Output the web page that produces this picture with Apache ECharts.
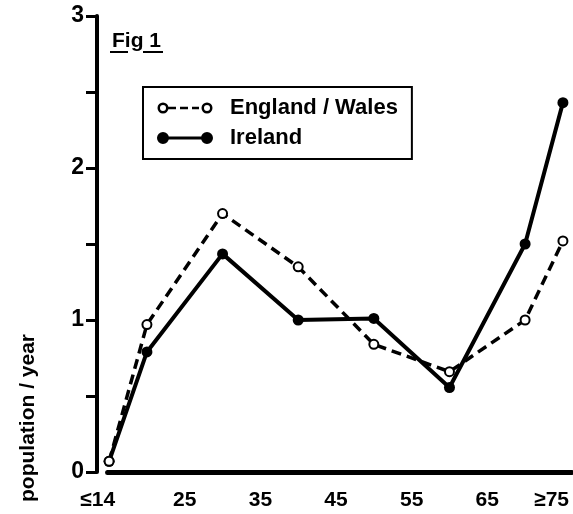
<!DOCTYPE html>
<html>
<head>
<meta charset="utf-8">
<script src="https://cdn.jsdelivr.net/npm/echarts@6/dist/echarts.min.js"></script>
<style>
  html, body { margin: 0; padding: 0; background: #fff; }
  #chart { width: 573px; height: 514px; }
</style>
</head>
<body>
<div id="chart"></div>
<script>
// age group (x) and value per group
const ages = [15, 20, 30, 40, 50, 60, 70, 75]
const englandWales = [0.07, 0.97, 1.70, 1.35, 0.84, 0.66, 1.0, 1.52]
const ireland = [0.07, 0.79, 1.435, 1.0, 1.01, 0.556, 1.5, 2.43]
const xLabels = ['≤14', '25', '35', '45', '55', '65', '≥75']
const xLabelPos = [13.5, 25, 35, 45, 55, 65, 73.5]
const yTicks = [0, 1, 2, 3]

const font = 'Liberation Sans'
const pair = arr => arr.map((v, i) => [ages[i], v])

// legend icons: circle - line - circle
const iconOpen = 'path://M0,0h0.01v0.01h-0.01Z M55.99,11.99h0.01v0.01h-0.01Z ' +
  'M0.5,6A5.5,5.5 0 1,1 11.5,6A5.5,5.5 0 1,1 0.5,6Z M3,6A3,3 0 1,0 9,6A3,3 0 1,0 3,6Z ' +
  'M11,4.7h8v2.6h-8Z M23,4.7h8v2.6h-8Z M35,4.7h7v2.6h-7Z ' +
  'M44.5,6A5.5,5.5 0 1,1 55.5,6A5.5,5.5 0 1,1 44.5,6Z M47,6A3,3 0 1,0 53,6A3,3 0 1,0 47,6Z'
const iconFilled = 'path://M0,6A6,6 0 1,1 12,6A6,6 0 1,1 0,6Z M6,4.4h44v3.2h-44Z M44,6A6,6 0 1,1 56,6A6,6 0 1,1 44,6Z'

const myChart = echarts.init(document.getElementById('chart'))
const option = {
  backgroundColor: '#fff',
  animation: false,
  textStyle: { fontFamily: font },
  grid: { left: 97, right: 1, top: 16, bottom: 42, outerBoundsMode: 'none' },
  legend: {
    left: 143,
    top: 87,
    orient: 'vertical',
    borderColor: '#000',
    borderWidth: 2,
    padding: [10, 14, 10, 14],
    itemGap: 8,
    itemWidth: 56,
    itemHeight: 12,
    selectedMode: false,
    itemStyle: { color: '#000', borderWidth: 0 },
    textStyle: { fontFamily: font, fontSize: 22, fontWeight: 'bold', color: '#000', padding: [0, 0, 0, 12] },
    data: [
      { name: 'England / Wales', icon: iconOpen, itemStyle: { color: '#000', borderWidth: 0 } },
      { name: 'Ireland', icon: iconFilled, itemStyle: { color: '#000', borderWidth: 0 } }
    ]
  },
  xAxis: {
    type: 'value',
    min: 13.4,
    max: 76.2,
    axisLine: { show: false },
    axisTick: { show: false },
    splitLine: { show: false },
    axisLabel: {
      customValues: xLabelPos,
      formatter: v => xLabels[xLabelPos.indexOf(v)],
      margin: 18,
      color: '#000',
      fontFamily: font,
      fontSize: 21,
      fontWeight: 'bold'
    }
  },
  yAxis: {
    type: 'value',
    min: 0,
    max: 3,
    interval: 0.5,
    splitLine: { show: false },
    axisLine: { show: true, lineStyle: { color: '#000', width: 4 } },
    axisTick: { show: true, length: 11, lineStyle: { color: '#000', width: 3 } },
    axisLabel: {
      margin: 13,
      color: '#000',
      fontFamily: font,
      fontSize: 23,
      fontWeight: 'bold',
      formatter: v => (yTicks.indexOf(v) >= 0 ? String(v) : '')
    }
  },
  graphic: [
    {
      type: 'text',
      left: 112,
      top: 31,
      style: { text: 'Fig 1', fontFamily: font, fontSize: 21, fontWeight: 'bold', fill: '#000' }
    },
    { type: 'line', shape: { x1: 110, y1: 52, x2: 128, y2: 52 }, style: { stroke: '#000', lineWidth: 2 } },
    { type: 'line', shape: { x1: 143, y1: 52, x2: 163, y2: 52 }, style: { stroke: '#000', lineWidth: 2 } },
    {
      type: 'text',
      x: 28,
      y: 502,
      rotation: Math.PI / 2,
      style: {
        text: 'population / year',
        fontFamily: font,
        fontSize: 21,
        fontWeight: 'bold',
        fill: '#000',
        align: 'left',
        verticalAlign: 'middle'
      }
    }
  ],
  series: [
    {
      name: 'England / Wales',
      type: 'line',
      data: pair(englandWales),
      symbol: 'emptyCircle',
      symbolSize: 9,
      itemStyle: { color: '#000', borderWidth: 2.5 },
      lineStyle: { color: '#000', width: 3.5, type: [10, 6] },
      z: 3
    },
    {
      name: 'Ireland',
      type: 'line',
      data: pair(ireland),
      symbol: 'circle',
      symbolSize: 11,
      itemStyle: { color: '#000' },
      lineStyle: { color: '#000', width: 4 },
      z: 2,
      markLine: {
        silent: true,
        symbol: 'none',
        label: { show: false },
        lineStyle: { color: '#000', width: 5, type: 'solid', cap: 'round' },
        data: [[{ coord: [14.8, 0] }, { coord: [76.2, 0] }]]
      }
    }
  ]
}
myChart.setOption(option)
</script>
</body>
</html>
